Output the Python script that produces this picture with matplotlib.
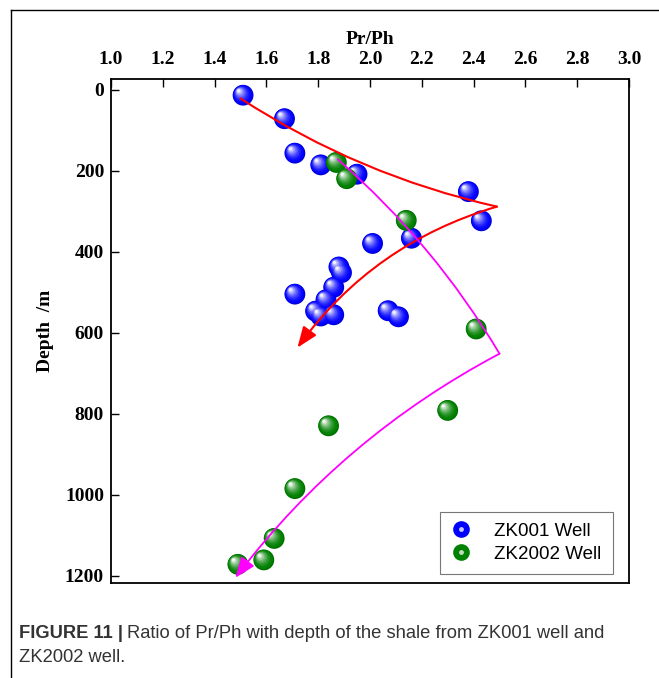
import numpy as np
import matplotlib
matplotlib.use("Agg")
import matplotlib.pyplot as plt
from matplotlib.patches import FancyArrowPatch
from matplotlib.transforms import offset_copy
from matplotlib.lines import Line2D
from matplotlib.legend_handler import HandlerTuple
from matplotlib.colors import to_rgb

# ---------------- data ----------------
zk001_prph = [1.51, 1.67, 1.71, 1.81, 1.95, 2.38, 2.43, 2.16, 2.01, 1.88, 1.89, 1.86, 1.71,
              1.83, 1.79, 1.81, 1.86, 2.07, 2.11]
zk001_depth = [14, 72, 157, 186, 209, 252, 324, 367, 380, 438, 452, 488, 505,
               519, 547, 559, 556, 546, 561]
zk2002_prph = [1.87, 1.91, 2.14, 2.41, 2.30, 1.84, 1.71, 1.63, 1.59, 1.49]
zk2002_depth = [180, 220, 323, 591, 792, 830, 985, 1108, 1161, 1172]

x_ticks = [1.0, 1.2, 1.4, 1.6, 1.8, 2.0, 2.2, 2.4, 2.6, 2.8, 3.0]
y_ticks = [0, 200, 400, 600, 800, 1000, 1200]

# trend arrows (start, end, curvature)
red_upper = [(1.50, 22), (2.49, 289), 0.09]
red_lower = [(2.49, 289), (1.72, 637), 0.17]
mag_upper = [(1.875, 172), (2.50, 652), -0.08]
mag_lower = [(2.50, 652), (1.48, 1205), 0.11]

W, H = 659, 678
fig = plt.figure(figsize=(W / 100, H / 100), dpi=100)
ax = fig.add_axes([111 / W, (H - 583) / H, 518 / W, 504 / H])

serif = ["Liberation Serif", "DejaVu Serif"]
R_PT = 15.0  # marker diameter in points


def spheres(ax, xs, ys, color, diam, z):
    base = np.array(to_rgb(color))
    white = np.ones(3)
    ax.scatter(xs, ys, s=diam ** 2, color=base * 0.85, edgecolors="none", zorder=z)
    n = 8
    R = diam / 2
    for i in range(0, n + 1):
        f = i / n
        r = R * (0.93 - 0.78 * f)
        off = (R - r) * 0.5
        c = base + (white - base) * min(1, 0.95 * f ** 1.6)
        tr = offset_copy(ax.transData, fig=fig, x=-off, y=off, units="points")
        ax.scatter(xs, ys, s=(2 * r) ** 2, color=c, edgecolors="none",
                   transform=tr, zorder=z + 0.01 * (i + 1))


spheres(ax, zk001_prph, zk001_depth, "#0000ff", R_PT, 2)
spheres(ax, zk2002_prph, zk2002_depth, "#008000", R_PT, 3)


def trend(ax, spec, color, lw, arrow):
    (p0, p1, rad) = spec
    style = "-|>,head_length=0.9,head_width=0.35" if arrow else "-"
    a = FancyArrowPatch(p0, p1, connectionstyle=f"arc3,rad={rad}", arrowstyle=style,
                        mutation_scale=14, color=color, lw=lw, zorder=5,
                        shrinkA=0, shrinkB=0)
    ax.add_patch(a)


trend(ax, red_upper, "#ff0000", 1.5, False)
trend(ax, red_lower, "#ff0000", 1.5, True)
trend(ax, mag_upper, "#ff00ff", 1.3, False)
trend(ax, mag_lower, "#ff00ff", 1.3, True)

ax.set_xlim(1.0, 3.0)
ax.set_ylim(1218, -26)
ax.set_xticks(x_ticks)
ax.set_xticklabels([f"{v:.1f}" for v in x_ticks])
ax.set_yticks(y_ticks)
ax.set_yticklabels([str(v) for v in y_ticks])
ax.xaxis.tick_top()
ax.xaxis.set_label_position("top")
ax.tick_params(axis="x", direction="in", length=6, width=1.0, pad=8,
               top=True, bottom=False, labelsize=14)
ax.tick_params(axis="y", direction="in", length=6, width=1.0, pad=5,
               left=True, right=False, labelsize=14)
for lab in ax.get_xticklabels() + ax.get_yticklabels():
    lab.set_fontfamily(serif)
    lab.set_fontweight("bold")
for s in ax.spines.values():
    s.set_linewidth(1.3)

ax.set_xlabel("Pr/Ph", fontfamily=serif, fontweight="bold", fontsize=14, labelpad=5)
ax.set_ylabel("Depth  /m", fontfamily=serif, fontweight="bold", fontsize=14, labelpad=8)

# legend
def leg_handle(color, hi_color):
    base = Line2D([], [], ls="none", marker="o", ms=12, mfc=color, mec="none")
    hi = Line2D([], [], ls="none", marker="o", ms=3.5, mfc=hi_color, mec="none")
    return (base, hi)

leg = ax.legend([leg_handle("#0000ff", "#c8c8ff"), leg_handle("#008000", "#c0dcc0")],
                ["ZK001 Well", "ZK2002 Well"],
                handler_map={tuple: HandlerTuple(ndivide=1)},
                loc="lower right", bbox_to_anchor=(0.969, 0.018),
                prop={"family": ["Liberation Sans", "DejaVu Sans"], "size": 13.5},
                frameon=True, fancybox=False, edgecolor="#555555",
                handlelength=1.0, handletextpad=1.3, borderpad=0.6,
                labelspacing=0.3, borderaxespad=0)
leg.get_frame().set_linewidth(0.8)

# outer frame lines (top and left)
fig.add_artist(Line2D([11 / W, 1.0], [1 - 9.5 / H, 1 - 9.5 / H], color="black", lw=1.0))
fig.add_artist(Line2D([11 / W, 11 / W], [0, 1 - 9.5 / H], color="black", lw=1.0))

# caption
cap_font = ["Liberation Sans Narrow", "Liberation Sans", "DejaVu Sans"]
t1 = fig.text(19 / W, 1 - 634 / H, "FIGURE 11 |", fontfamily=cap_font, fontweight="bold",
              fontsize=13.2, color="#333333", va="center", ha="left")
fig.canvas.draw()
bb = t1.get_window_extent()
fig.text((bb.x1 + 4) / W, 1 - 634 / H, "Ratio of Pr/Ph with depth of the shale from ZK001 well and",
         fontfamily=cap_font, fontsize=13.2, color="#333333", va="center", ha="left")
fig.text(19 / W, 1 - 657 / H, "ZK2002 well.", fontfamily=cap_font, fontsize=13.2,
         color="#333333", va="center", ha="left")

fig.savefig("out.png", dpi=100)
